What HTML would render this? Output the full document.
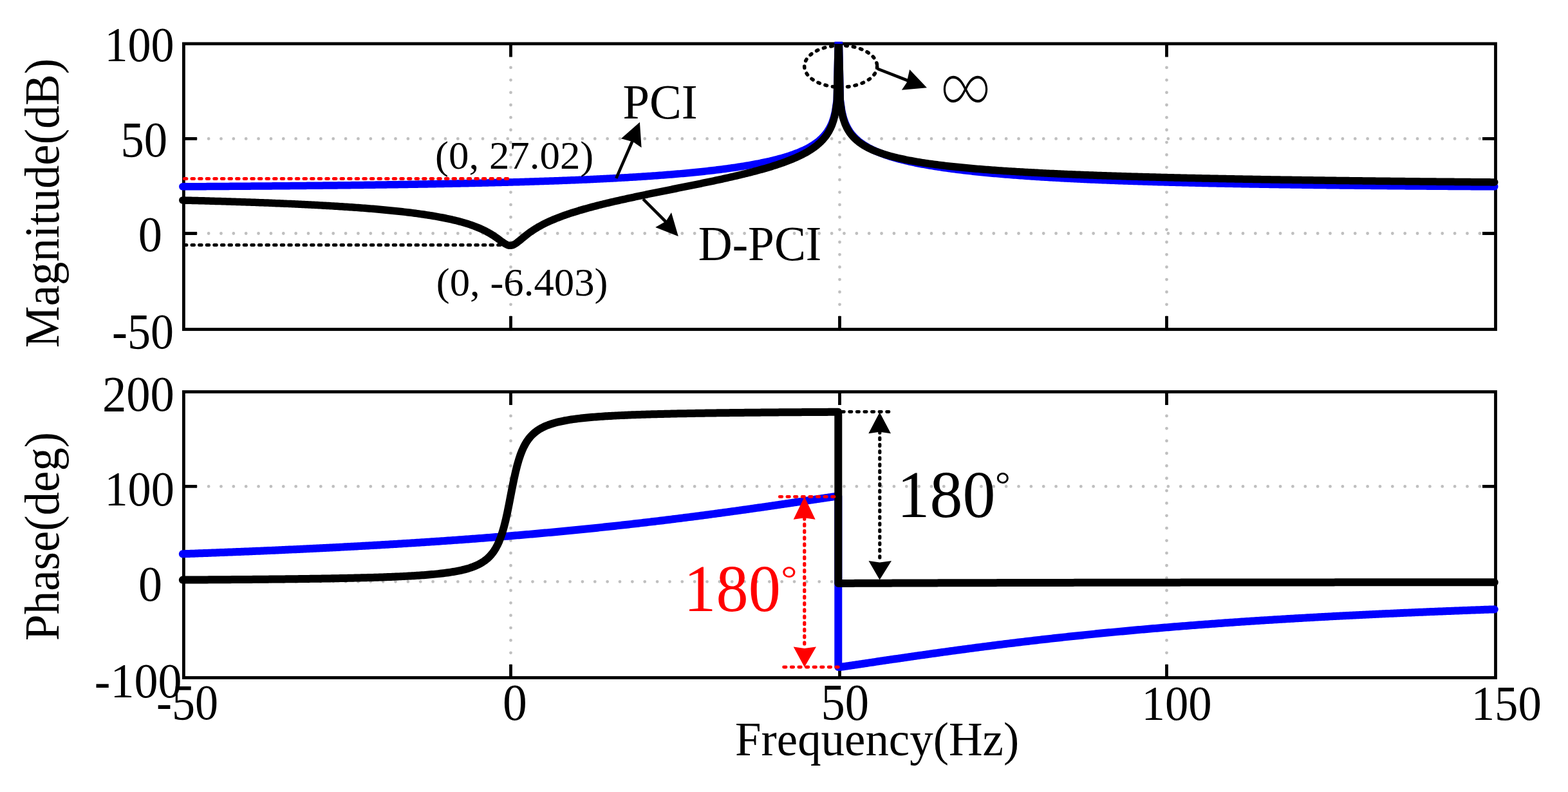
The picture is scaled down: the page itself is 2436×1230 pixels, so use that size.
<!DOCTYPE html>
<html><head><meta charset="utf-8"><title>Bode</title><style>html,body{margin:0;padding:0;background:#fff;overflow:hidden}svg{display:block}text{font-family:"Liberation Serif","Times New Roman",serif}</style></head><body>
<svg width="2436" height="1230" viewBox="0 0 2436 1230" font-family="'Liberation Serif', 'Times New Roman', serif">
<rect width="2436" height="1230" fill="#fff"/>
<defs><clipPath id="ct"><rect x="270" y="64.8" width="2070" height="454.7"/></clipPath><clipPath id="ct2"><rect x="270" y="68" width="2070" height="451.5"/></clipPath><clipPath id="cb"><rect x="270" y="606.5" width="2070" height="454.0"/></clipPath></defs>
<line x1="285.4" y1="215.4" x2="2323.5" y2="215.4" stroke="#bfbfbf" stroke-width="4.8" stroke-dasharray="0 19.36" stroke-linecap="round"/>
<line x1="285.4" y1="362.5" x2="2323.5" y2="362.5" stroke="#bfbfbf" stroke-width="4.8" stroke-dasharray="0 19.36" stroke-linecap="round"/>
<line x1="793.5" y1="511.5" x2="793.5" y2="67.9" stroke="#bfbfbf" stroke-width="4.8" stroke-dasharray="0 19.36" stroke-linecap="round"/>
<line x1="1304.5" y1="511.5" x2="1304.5" y2="67.9" stroke="#bfbfbf" stroke-width="4.8" stroke-dasharray="0 19.36" stroke-linecap="round"/>
<line x1="1812.5" y1="511.5" x2="1812.5" y2="67.9" stroke="#bfbfbf" stroke-width="4.8" stroke-dasharray="0 19.36" stroke-linecap="round"/>
<line x1="285.4" y1="755.4" x2="2323.5" y2="755.4" stroke="#bfbfbf" stroke-width="4.8" stroke-dasharray="0 19.36" stroke-linecap="round"/>
<line x1="285.4" y1="903.3" x2="2323.5" y2="903.3" stroke="#bfbfbf" stroke-width="4.8" stroke-dasharray="0 19.36" stroke-linecap="round"/>
<line x1="793.5" y1="1052.5" x2="793.5" y2="608.5" stroke="#bfbfbf" stroke-width="4.8" stroke-dasharray="0 19.36" stroke-linecap="round"/>
<line x1="1304.5" y1="1052.5" x2="1304.5" y2="608.5" stroke="#bfbfbf" stroke-width="4.8" stroke-dasharray="0 19.36" stroke-linecap="round"/>
<line x1="1812.5" y1="1052.5" x2="1812.5" y2="608.5" stroke="#bfbfbf" stroke-width="4.8" stroke-dasharray="0 19.36" stroke-linecap="round"/>
<path d="M285.4,215.4h20.5M2323.5,215.4h-20.5M285.4,362.5h20.5M2323.5,362.5h-20.5M793.5,511.5v-20.5M793.5,67.9v20.5M1304.5,511.5v-20.5M1304.5,67.9v20.5M1812.5,511.5v-20.5M1812.5,67.9v20.5" stroke="#000" stroke-width="4.8" fill="none"/>
<rect x="285.4" y="67.9" width="2038.1" height="443.6" fill="none" stroke="#000" stroke-width="4.8"/>
<path d="M285.4,755.4h20.5M2323.5,755.4h-20.5M285.4,903.3h20.5M2323.5,903.3h-20.5M793.5,1052.5v-20.5M793.5,608.5v20.5M1304.5,1052.5v-20.5M1304.5,608.5v20.5M1812.5,1052.5v-20.5M1812.5,608.5v20.5" stroke="#000" stroke-width="4.8" fill="none"/>
<rect x="285.4" y="608.5" width="2038.1" height="444.0" fill="none" stroke="#000" stroke-width="4.8"/>
<g clip-path="url(#ct)">
<path d="M283.8,289.85 L286.35,289.84 L288.89,289.82 L291.44,289.81 L293.99,289.79 L296.54,289.78 L299.08,289.76 L301.63,289.75 L304.18,289.73 L306.73,289.71 L309.27,289.7 L311.82,289.68 L314.37,289.67 L316.92,289.65 L319.46,289.63 L322.01,289.62 L324.56,289.6 L327.11,289.58 L329.65,289.57 L332.2,289.55 L334.75,289.53 L337.3,289.51 L339.84,289.5 L342.39,289.48 L344.94,289.46 L347.49,289.44 L350.03,289.43 L352.58,289.41 L355.13,289.39 L357.68,289.37 L360.22,289.35 L362.77,289.34 L365.32,289.32 L367.87,289.3 L370.41,289.28 L372.96,289.26 L375.51,289.24 L378.06,289.22 L380.6,289.2 L383.15,289.18 L385.7,289.16 L388.25,289.14 L390.79,289.12 L393.34,289.11 L395.89,289.08 L398.44,289.06 L400.98,289.04 L403.53,289.02 L406.08,289 L408.63,288.98 L411.17,288.96 L413.72,288.94 L416.27,288.92 L418.82,288.9 L421.36,288.88 L423.91,288.85 L426.46,288.83 L429.01,288.81 L431.55,288.79 L434.1,288.77 L436.65,288.74 L439.2,288.72 L441.74,288.7 L444.29,288.68 L446.84,288.65 L449.39,288.63 L451.93,288.61 L454.48,288.58 L457.03,288.56 L459.58,288.53 L462.12,288.51 L464.67,288.49 L467.22,288.46 L469.77,288.44 L472.31,288.41 L474.86,288.39 L477.41,288.36 L479.96,288.34 L482.5,288.31 L485.05,288.29 L487.6,288.26 L490.15,288.23 L492.69,288.21 L495.24,288.18 L497.79,288.15 L500.34,288.13 L502.88,288.1 L505.43,288.07 L507.98,288.04 L510.53,288.02 L513.08,287.99 L515.62,287.96 L518.17,287.93 L520.72,287.9 L523.26,287.88 L525.81,287.85 L528.36,287.82 L530.91,287.79 L533.45,287.76 L536,287.73 L538.55,287.7 L541.1,287.67 L543.64,287.64 L546.19,287.61 L548.74,287.58 L551.29,287.54 L553.84,287.51 L556.38,287.48 L558.93,287.45 L561.48,287.42 L564.02,287.38 L566.57,287.35 L569.12,287.32 L571.67,287.28 L574.21,287.25 L576.76,287.22 L579.31,287.18 L581.86,287.15 L584.4,287.11 L586.95,287.08 L589.5,287.04 L592.05,287.01 L594.6,286.97 L597.14,286.94 L599.69,286.9 L602.24,286.86 L604.78,286.83 L607.33,286.79 L609.88,286.75 L612.43,286.71 L614.97,286.68 L617.52,286.64 L620.07,286.6 L622.62,286.56 L625.16,286.52 L627.71,286.48 L630.26,286.44 L632.81,286.4 L635.36,286.36 L637.9,286.32 L640.45,286.28 L643,286.24 L645.54,286.19 L648.09,286.15 L650.64,286.11 L653.19,286.07 L655.73,286.02 L658.28,285.98 L660.83,285.93 L663.38,285.89 L665.92,285.84 L668.47,285.8 L671.02,285.75 L673.57,285.71 L676.12,285.66 L678.66,285.61 L681.21,285.57 L683.76,285.52 L686.3,285.47 L688.85,285.42 L691.4,285.37 L693.95,285.32 L696.5,285.27 L699.04,285.22 L701.59,285.17 L704.14,285.12 L706.68,285.07 L709.23,285.02 L711.78,284.96 L714.33,284.91 L716.88,284.86 L719.42,284.8 L721.97,284.75 L724.52,284.69 L727.06,284.64 L729.61,284.58 L732.16,284.53 L734.71,284.47 L737.25,284.41 L739.8,284.35 L742.35,284.3 L744.9,284.24 L747.44,284.18 L749.99,284.12 L752.54,284.06 L755.09,284 L757.63,283.93 L760.18,283.87 L762.73,283.81 L765.28,283.75 L767.82,283.68 L770.37,283.62 L772.92,283.55 L775.47,283.49 L778.01,283.42 L780.56,283.35 L783.11,283.28 L785.66,283.22 L788.2,283.15 L790.75,283.08 L793.3,283.01 L795.85,282.94 L798.39,282.86 L800.94,282.79 L803.49,282.72 L806.04,282.64 L808.58,282.57 L811.13,282.5 L813.68,282.42 L816.23,282.34 L818.77,282.27 L821.32,282.19 L823.87,282.11 L826.42,282.03 L828.96,281.95 L831.51,281.87 L834.06,281.78 L836.61,281.7 L839.15,281.62 L841.7,281.53 L844.25,281.45 L846.8,281.36 L849.34,281.27 L851.89,281.19 L854.44,281.1 L856.99,281.01 L859.53,280.92 L862.08,280.83 L864.63,280.73 L867.18,280.64 L869.72,280.55 L872.27,280.45 L874.82,280.35 L877.37,280.26 L879.91,280.16 L882.46,280.06 L885.01,279.96 L887.56,279.86 L890.1,279.75 L892.65,279.65 L895.2,279.55 L897.75,279.44 L900.29,279.33 L902.84,279.22 L905.39,279.12 L907.94,279 L910.48,278.89 L913.03,278.78 L915.58,278.67 L918.13,278.55 L920.67,278.43 L923.22,278.32 L925.77,278.2 L928.32,278.08 L930.87,277.96 L933.41,277.83 L935.96,277.71 L938.51,277.58 L941.05,277.46 L943.6,277.33 L946.15,277.2 L948.7,277.07 L951.24,276.93 L953.79,276.8 L956.34,276.66 L958.89,276.52 L961.43,276.38 L963.98,276.24 L966.53,276.1 L969.08,275.96 L971.62,275.81 L974.17,275.66 L976.72,275.52 L979.27,275.36 L981.81,275.21 L984.36,275.06 L986.91,274.9 L989.46,274.74 L992,274.58 L994.55,274.42 L997.1,274.26 L999.65,274.09 L1002.19,273.92 L1004.74,273.75 L1007.29,273.58 L1009.84,273.41 L1012.38,273.23 L1014.93,273.05 L1017.48,272.87 L1020.03,272.69 L1022.57,272.5 L1025.12,272.31 L1027.67,272.12 L1030.22,271.93 L1032.76,271.74 L1035.31,271.54 L1037.86,271.34 L1040.41,271.13 L1042.95,270.93 L1045.5,270.72 L1048.05,270.51 L1050.6,270.3 L1053.14,270.08 L1055.69,269.86 L1058.24,269.64 L1060.79,269.41 L1063.34,269.18 L1065.88,268.95 L1068.43,268.71 L1070.98,268.47 L1073.52,268.23 L1076.07,267.99 L1078.62,267.74 L1081.17,267.48 L1083.71,267.23 L1086.26,266.97 L1088.81,266.7 L1091.36,266.43 L1093.9,266.16 L1096.45,265.88 L1099,265.6 L1101.55,265.32 L1104.09,265.03 L1106.64,264.74 L1109.19,264.44 L1111.74,264.13 L1114.28,263.82 L1116.83,263.51 L1119.38,263.19 L1121.93,262.87 L1124.47,262.54 L1127.02,262.2 L1129.57,261.86 L1132.12,261.52 L1134.66,261.16 L1137.21,260.81 L1139.76,260.44 L1142.31,260.07 L1144.86,259.69 L1147.4,259.3 L1149.95,258.91 L1152.5,258.51 L1155.05,258.1 L1157.59,257.68 L1160.14,257.26 L1162.69,256.82 L1165.23,256.38 L1167.78,255.93 L1170.33,255.47 L1172.88,255 L1175.42,254.52 L1177.97,254.03 L1180.52,253.52 L1183.07,253.01 L1185.62,252.48 L1188.16,251.94 L1190.71,251.39 L1193.26,250.82 L1195.8,250.24 L1198.35,249.65 L1200.9,249.04 L1203.45,248.41 L1205.99,247.77 L1208.54,247.1 L1211.09,246.42 L1213.64,245.72 L1216.18,245 L1218.73,244.25 L1221.28,243.48 L1223.83,242.69 L1226.38,241.86 L1228.92,241.01 L1231.47,240.13 L1234.02,239.21 L1236.57,238.26 L1239.11,237.27 L1241.66,236.24 L1244.21,235.17 L1246.75,234.04 L1249.3,232.87 L1251.85,231.63 L1254.4,230.33 L1256.94,228.96 L1259.49,227.5 L1262.04,225.96 L1264.59,224.32 L1267.13,222.57 L1269.68,220.68 L1272.23,218.64 L1274.78,216.42 L1277.32,213.99 L1279.87,211.31 L1282.42,208.3 L1284.97,204.89 L1287.51,200.96 L1290.06,196.3 L1292.61,190.6 L1295.16,183.25 L1297.7,172.89 L1300.25,155.18 L1302.8,40 L1305.35,155.18 L1307.89,172.89 L1310.44,183.25 L1312.99,190.6 L1315.54,196.3 L1318.09,200.96 L1320.63,204.89 L1323.18,208.3 L1325.73,211.31 L1328.28,213.99 L1330.82,216.42 L1333.37,218.64 L1335.92,220.68 L1338.46,222.57 L1341.01,224.32 L1343.56,225.96 L1346.11,227.5 L1348.65,228.96 L1351.2,230.33 L1353.75,231.63 L1356.3,232.87 L1358.84,234.04 L1361.39,235.17 L1363.94,236.24 L1366.49,237.27 L1369.03,238.26 L1371.58,239.21 L1374.13,240.13 L1376.68,241.01 L1379.22,241.86 L1381.77,242.69 L1384.32,243.48 L1386.87,244.25 L1389.41,245 L1391.96,245.72 L1394.51,246.42 L1397.06,247.1 L1399.61,247.77 L1402.15,248.41 L1404.7,249.04 L1407.25,249.65 L1409.8,250.24 L1412.34,250.82 L1414.89,251.39 L1417.44,251.94 L1419.98,252.48 L1422.53,253.01 L1425.08,253.52 L1427.63,254.03 L1430.17,254.52 L1432.72,255 L1435.27,255.47 L1437.82,255.93 L1440.36,256.38 L1442.91,256.82 L1445.46,257.26 L1448.01,257.68 L1450.55,258.1 L1453.1,258.51 L1455.65,258.91 L1458.2,259.3 L1460.74,259.69 L1463.29,260.07 L1465.84,260.44 L1468.39,260.81 L1470.93,261.16 L1473.48,261.52 L1476.03,261.86 L1478.58,262.2 L1481.12,262.54 L1483.67,262.87 L1486.22,263.19 L1488.77,263.51 L1491.32,263.82 L1493.86,264.13 L1496.41,264.44 L1498.96,264.74 L1501.5,265.03 L1504.05,265.32 L1506.6,265.6 L1509.15,265.88 L1511.69,266.16 L1514.24,266.43 L1516.79,266.7 L1519.34,266.97 L1521.88,267.23 L1524.43,267.48 L1526.98,267.74 L1529.53,267.99 L1532.07,268.23 L1534.62,268.47 L1537.17,268.71 L1539.72,268.95 L1542.26,269.18 L1544.81,269.41 L1547.36,269.64 L1549.91,269.86 L1552.45,270.08 L1555,270.3 L1557.55,270.51 L1560.1,270.72 L1562.64,270.93 L1565.19,271.13 L1567.74,271.34 L1570.29,271.54 L1572.84,271.74 L1575.38,271.93 L1577.93,272.12 L1580.48,272.31 L1583.02,272.5 L1585.57,272.69 L1588.12,272.87 L1590.67,273.05 L1593.21,273.23 L1595.76,273.41 L1598.31,273.58 L1600.86,273.75 L1603.4,273.92 L1605.95,274.09 L1608.5,274.26 L1611.05,274.42 L1613.59,274.58 L1616.14,274.74 L1618.69,274.9 L1621.24,275.06 L1623.78,275.21 L1626.33,275.36 L1628.88,275.52 L1631.43,275.66 L1633.97,275.81 L1636.52,275.96 L1639.07,276.1 L1641.62,276.24 L1644.16,276.38 L1646.71,276.52 L1649.26,276.66 L1651.81,276.8 L1654.36,276.93 L1656.9,277.07 L1659.45,277.2 L1662,277.33 L1664.55,277.46 L1667.09,277.58 L1669.64,277.71 L1672.19,277.83 L1674.73,277.96 L1677.28,278.08 L1679.83,278.2 L1682.38,278.32 L1684.92,278.43 L1687.47,278.55 L1690.02,278.67 L1692.57,278.78 L1695.11,278.89 L1697.66,279 L1700.21,279.12 L1702.76,279.22 L1705.3,279.33 L1707.85,279.44 L1710.4,279.55 L1712.95,279.65 L1715.49,279.75 L1718.04,279.86 L1720.59,279.96 L1723.14,280.06 L1725.68,280.16 L1728.23,280.26 L1730.78,280.35 L1733.33,280.45 L1735.88,280.55 L1738.42,280.64 L1740.97,280.73 L1743.52,280.83 L1746.07,280.92 L1748.61,281.01 L1751.16,281.1 L1753.71,281.19 L1756.25,281.27 L1758.8,281.36 L1761.35,281.45 L1763.9,281.53 L1766.44,281.62 L1768.99,281.7 L1771.54,281.78 L1774.09,281.87 L1776.63,281.95 L1779.18,282.03 L1781.73,282.11 L1784.28,282.19 L1786.82,282.27 L1789.37,282.34 L1791.92,282.42 L1794.47,282.5 L1797.01,282.57 L1799.56,282.64 L1802.11,282.72 L1804.66,282.79 L1807.2,282.86 L1809.75,282.94 L1812.3,283.01 L1814.85,283.08 L1817.39,283.15 L1819.94,283.22 L1822.49,283.28 L1825.04,283.35 L1827.58,283.42 L1830.13,283.49 L1832.68,283.55 L1835.23,283.62 L1837.77,283.68 L1840.32,283.75 L1842.87,283.81 L1845.42,283.87 L1847.96,283.93 L1850.51,284 L1853.06,284.06 L1855.61,284.12 L1858.15,284.18 L1860.7,284.24 L1863.25,284.3 L1865.8,284.35 L1868.34,284.41 L1870.89,284.47 L1873.44,284.53 L1875.99,284.58 L1878.53,284.64 L1881.08,284.69 L1883.63,284.75 L1886.18,284.8 L1888.72,284.86 L1891.27,284.91 L1893.82,284.96 L1896.37,285.02 L1898.91,285.07 L1901.46,285.12 L1904.01,285.17 L1906.56,285.22 L1909.1,285.27 L1911.65,285.32 L1914.2,285.37 L1916.75,285.42 L1919.29,285.47 L1921.84,285.52 L1924.39,285.57 L1926.94,285.61 L1929.48,285.66 L1932.03,285.71 L1934.58,285.75 L1937.13,285.8 L1939.67,285.84 L1942.22,285.89 L1944.77,285.93 L1947.32,285.98 L1949.87,286.02 L1952.41,286.07 L1954.96,286.11 L1957.51,286.15 L1960.05,286.19 L1962.6,286.24 L1965.15,286.28 L1967.7,286.32 L1970.24,286.36 L1972.79,286.4 L1975.34,286.44 L1977.89,286.48 L1980.43,286.52 L1982.98,286.56 L1985.53,286.6 L1988.08,286.64 L1990.62,286.68 L1993.17,286.71 L1995.72,286.75 L1998.27,286.79 L2000.81,286.83 L2003.36,286.86 L2005.91,286.9 L2008.46,286.94 L2011,286.97 L2013.55,287.01 L2016.1,287.04 L2018.65,287.08 L2021.19,287.11 L2023.74,287.15 L2026.29,287.18 L2028.84,287.22 L2031.38,287.25 L2033.93,287.28 L2036.48,287.32 L2039.03,287.35 L2041.57,287.38 L2044.12,287.42 L2046.67,287.45 L2049.22,287.48 L2051.76,287.51 L2054.31,287.54 L2056.86,287.58 L2059.41,287.61 L2061.95,287.64 L2064.5,287.67 L2067.05,287.7 L2069.6,287.73 L2072.14,287.76 L2074.69,287.79 L2077.24,287.82 L2079.79,287.85 L2082.34,287.88 L2084.88,287.9 L2087.43,287.93 L2089.98,287.96 L2092.52,287.99 L2095.07,288.02 L2097.62,288.04 L2100.17,288.07 L2102.72,288.1 L2105.26,288.13 L2107.81,288.15 L2110.36,288.18 L2112.9,288.21 L2115.45,288.23 L2118,288.26 L2120.55,288.29 L2123.09,288.31 L2125.64,288.34 L2128.19,288.36 L2130.74,288.39 L2133.28,288.41 L2135.83,288.44 L2138.38,288.46 L2140.93,288.49 L2143.47,288.51 L2146.02,288.53 L2148.57,288.56 L2151.12,288.58 L2153.66,288.61 L2156.21,288.63 L2158.76,288.65 L2161.31,288.68 L2163.85,288.7 L2166.4,288.72 L2168.95,288.74 L2171.5,288.77 L2174.05,288.79 L2176.59,288.81 L2179.14,288.83 L2181.69,288.85 L2184.23,288.88 L2186.78,288.9 L2189.33,288.92 L2191.88,288.94 L2194.43,288.96 L2196.97,288.98 L2199.52,289 L2202.07,289.02 L2204.61,289.04 L2207.16,289.06 L2209.71,289.08 L2212.26,289.11 L2214.8,289.12 L2217.35,289.14 L2219.9,289.16 L2222.45,289.18 L2224.99,289.2 L2227.54,289.22 L2230.09,289.24 L2232.64,289.26 L2235.18,289.28 L2237.73,289.3 L2240.28,289.32 L2242.83,289.34 L2245.38,289.35 L2247.92,289.37 L2250.47,289.39 L2253.02,289.41 L2255.56,289.43 L2258.11,289.44 L2260.66,289.46 L2263.21,289.48 L2265.76,289.5 L2268.3,289.51 L2270.85,289.53 L2273.4,289.55 L2275.94,289.57 L2278.49,289.58 L2281.04,289.6 L2283.59,289.62 L2286.14,289.63 L2288.68,289.65 L2291.23,289.67 L2293.78,289.68 L2296.32,289.7 L2298.87,289.71 L2301.42,289.73 L2303.97,289.75 L2306.51,289.76 L2309.06,289.78 L2311.61,289.79 L2314.16,289.81 L2316.7,289.82 L2319.25,289.84 L2321.8,289.85" fill="none" stroke="#0000ff" stroke-width="11.5" stroke-linejoin="round" stroke-linecap="round" />
</g>
<g clip-path="url(#ct2)">
<path d="M283.8,311 L286.35,311.06 L288.89,311.13 L291.44,311.19 L293.99,311.26 L296.54,311.32 L299.08,311.39 L301.63,311.46 L304.18,311.52 L306.73,311.59 L309.27,311.66 L311.82,311.73 L314.37,311.8 L316.92,311.87 L319.46,311.94 L322.01,312.01 L324.56,312.08 L327.11,312.16 L329.65,312.23 L332.2,312.3 L334.75,312.38 L337.3,312.45 L339.84,312.53 L342.39,312.6 L344.94,312.68 L347.49,312.76 L350.03,312.84 L352.58,312.91 L355.13,312.99 L357.68,313.07 L360.22,313.15 L362.77,313.24 L365.32,313.32 L367.87,313.4 L370.41,313.48 L372.96,313.57 L375.51,313.65 L378.06,313.74 L380.6,313.83 L383.15,313.91 L385.7,314 L388.25,314.09 L390.79,314.18 L393.34,314.27 L395.89,314.36 L398.44,314.45 L400.98,314.55 L403.53,314.64 L406.08,314.74 L408.63,314.83 L411.17,314.93 L413.72,315.02 L416.27,315.12 L418.82,315.22 L421.36,315.32 L423.91,315.42 L426.46,315.53 L429.01,315.63 L431.55,315.73 L434.1,315.84 L436.65,315.95 L439.2,316.05 L441.74,316.16 L444.29,316.27 L446.84,316.38 L449.39,316.5 L451.93,316.61 L454.48,316.72 L457.03,316.84 L459.58,316.95 L462.12,317.07 L464.67,317.19 L467.22,317.31 L469.77,317.43 L472.31,317.56 L474.86,317.68 L477.41,317.81 L479.96,317.94 L482.5,318.06 L485.05,318.19 L487.6,318.33 L490.15,318.46 L492.69,318.59 L495.24,318.73 L497.79,318.87 L500.34,319.01 L502.88,319.15 L505.43,319.29 L507.98,319.44 L510.53,319.58 L513.08,319.73 L515.62,319.88 L518.17,320.03 L520.72,320.19 L523.26,320.34 L525.81,320.5 L528.36,320.66 L530.91,320.82 L533.45,320.99 L536,321.15 L538.55,321.32 L541.1,321.49 L543.64,321.66 L546.19,321.84 L548.74,322.02 L551.29,322.2 L553.84,322.38 L556.38,322.56 L558.93,322.75 L561.48,322.94 L564.02,323.13 L566.57,323.33 L569.12,323.53 L571.67,323.73 L574.21,323.94 L576.76,324.14 L579.31,324.35 L581.86,324.57 L584.4,324.79 L586.95,325.01 L589.5,325.23 L592.05,325.46 L594.6,325.69 L597.14,325.93 L599.69,326.17 L602.24,326.41 L604.78,326.66 L607.33,326.91 L609.88,327.16 L612.43,327.42 L614.97,327.69 L617.52,327.96 L620.07,328.23 L622.62,328.51 L625.16,328.8 L627.71,329.09 L630.26,329.38 L632.81,329.69 L635.36,329.99 L637.9,330.31 L640.45,330.63 L643,330.95 L645.54,331.28 L648.09,331.62 L650.64,331.97 L653.19,332.33 L655.73,332.69 L658.28,333.06 L660.83,333.44 L663.38,333.82 L665.92,334.22 L668.47,334.63 L671.02,335.04 L673.57,335.47 L676.12,335.9 L678.66,336.35 L681.21,336.81 L683.76,337.28 L686.3,337.76 L688.85,338.25 L691.4,338.76 L693.95,339.29 L696.5,339.83 L699.04,340.38 L701.59,340.95 L704.14,341.54 L706.68,342.15 L709.23,342.78 L711.78,343.42 L714.33,344.09 L716.88,344.78 L719.42,345.5 L721.97,346.24 L724.52,347.01 L727.06,347.81 L729.61,348.64 L732.16,349.5 L734.71,350.4 L737.25,351.34 L739.8,352.32 L742.35,353.34 L744.9,354.4 L747.44,355.52 L749.99,356.69 L752.54,357.92 L755.09,359.21 L757.63,360.57 L760.18,362 L762.73,363.5 L765.28,365.08 L767.82,366.73 L770.37,368.47 L772.92,370.27 L775.47,372.12 L778.01,374 L780.56,375.85 L783.11,377.61 L785.66,379.16 L788.2,380.39 L790.75,381.15 L793.3,381.34 L795.85,380.9 L798.39,379.88 L800.94,378.4 L803.49,376.58 L806.04,374.57 L808.58,372.46 L811.13,370.33 L813.68,368.22 L816.23,366.17 L818.77,364.18 L821.32,362.27 L823.87,360.43 L826.42,358.67 L828.96,356.99 L831.51,355.37 L834.06,353.82 L836.61,352.34 L839.15,350.91 L841.7,349.53 L844.25,348.21 L846.8,346.93 L849.34,345.69 L851.89,344.5 L854.44,343.34 L856.99,342.22 L859.53,341.13 L862.08,340.07 L864.63,339.04 L867.18,338.04 L869.72,337.06 L872.27,336.11 L874.82,335.17 L877.37,334.27 L879.91,333.38 L882.46,332.5 L885.01,331.65 L887.56,330.82 L890.1,330 L892.65,329.19 L895.2,328.4 L897.75,327.63 L900.29,326.86 L902.84,326.11 L905.39,325.38 L907.94,324.65 L910.48,323.93 L913.03,323.23 L915.58,322.53 L918.13,321.84 L920.67,321.17 L923.22,320.5 L925.77,319.84 L928.32,319.18 L930.87,318.54 L933.41,317.9 L935.96,317.27 L938.51,316.64 L941.05,316.03 L943.6,315.41 L946.15,314.81 L948.7,314.21 L951.24,313.61 L953.79,313.02 L956.34,312.43 L958.89,311.85 L961.43,311.28 L963.98,310.7 L966.53,310.14 L969.08,309.57 L971.62,309.01 L974.17,308.46 L976.72,307.9 L979.27,307.35 L981.81,306.8 L984.36,306.26 L986.91,305.72 L989.46,305.18 L992,304.64 L994.55,304.11 L997.1,303.58 L999.65,303.05 L1002.19,302.52 L1004.74,302 L1007.29,301.47 L1009.84,300.95 L1012.38,300.43 L1014.93,299.91 L1017.48,299.39 L1020.03,298.88 L1022.57,298.36 L1025.12,297.85 L1027.67,297.33 L1030.22,296.82 L1032.76,296.31 L1035.31,295.8 L1037.86,295.29 L1040.41,294.78 L1042.95,294.27 L1045.5,293.76 L1048.05,293.25 L1050.6,292.74 L1053.14,292.23 L1055.69,291.72 L1058.24,291.21 L1060.79,290.69 L1063.34,290.18 L1065.88,289.67 L1068.43,289.16 L1070.98,288.64 L1073.52,288.13 L1076.07,287.61 L1078.62,287.09 L1081.17,286.58 L1083.71,286.06 L1086.26,285.54 L1088.81,285.01 L1091.36,284.49 L1093.9,283.96 L1096.45,283.43 L1099,282.9 L1101.55,282.37 L1104.09,281.83 L1106.64,281.3 L1109.19,280.76 L1111.74,280.21 L1114.28,279.67 L1116.83,279.12 L1119.38,278.56 L1121.93,278.01 L1124.47,277.45 L1127.02,276.89 L1129.57,276.32 L1132.12,275.75 L1134.66,275.17 L1137.21,274.59 L1139.76,274.01 L1142.31,273.42 L1144.86,272.83 L1147.4,272.23 L1149.95,271.62 L1152.5,271.01 L1155.05,270.39 L1157.59,269.77 L1160.14,269.14 L1162.69,268.5 L1165.23,267.86 L1167.78,267.21 L1170.33,266.55 L1172.88,265.88 L1175.42,265.2 L1177.97,264.52 L1180.52,263.82 L1183.07,263.12 L1185.62,262.4 L1188.16,261.67 L1190.71,260.93 L1193.26,260.18 L1195.8,259.42 L1198.35,258.64 L1200.9,257.85 L1203.45,257.05 L1205.99,256.23 L1208.54,255.39 L1211.09,254.53 L1213.64,253.66 L1216.18,252.76 L1218.73,251.84 L1221.28,250.91 L1223.83,249.94 L1226.38,248.96 L1228.92,247.94 L1231.47,246.89 L1234.02,245.82 L1236.57,244.7 L1239.11,243.56 L1241.66,242.37 L1244.21,241.14 L1246.75,239.86 L1249.3,238.52 L1251.85,237.14 L1254.4,235.68 L1256.94,234.16 L1259.49,232.56 L1262.04,230.87 L1264.59,229.08 L1267.13,227.18 L1269.68,225.15 L1272.23,222.97 L1274.78,220.61 L1277.32,218.04 L1279.87,215.22 L1282.42,212.07 L1284.97,208.53 L1287.51,204.46 L1290.06,199.67 L1292.61,193.83 L1295.16,186.35 L1297.7,175.86 L1300.25,158.02 L1302.8,40 L1305.35,157.77 L1307.89,175.35 L1310.44,185.59 L1312.99,192.81 L1315.54,198.39 L1318.09,202.93 L1320.63,206.74 L1323.18,210.03 L1325.73,212.92 L1328.28,215.49 L1330.82,217.8 L1333.37,219.9 L1335.92,221.83 L1338.46,223.6 L1341.01,225.25 L1343.56,226.78 L1346.11,228.21 L1348.65,229.55 L1351.2,230.82 L1353.75,232.01 L1356.3,233.14 L1358.84,234.22 L1361.39,235.24 L1363.94,236.21 L1366.49,237.14 L1369.03,238.03 L1371.58,238.88 L1374.13,239.7 L1376.68,240.48 L1379.22,241.24 L1381.77,241.97 L1384.32,242.67 L1386.87,243.34 L1389.41,244 L1391.96,244.63 L1394.51,245.24 L1397.06,245.83 L1399.61,246.41 L1402.15,246.96 L1404.7,247.5 L1407.25,248.03 L1409.8,248.54 L1412.34,249.03 L1414.89,249.52 L1417.44,249.99 L1419.98,250.44 L1422.53,250.89 L1425.08,251.33 L1427.63,251.75 L1430.17,252.16 L1432.72,252.57 L1435.27,252.96 L1437.82,253.35 L1440.36,253.72 L1442.91,254.09 L1445.46,254.45 L1448.01,254.81 L1450.55,255.15 L1453.1,255.49 L1455.65,255.82 L1458.2,256.14 L1460.74,256.46 L1463.29,256.77 L1465.84,257.08 L1468.39,257.38 L1470.93,257.67 L1473.48,257.96 L1476.03,258.24 L1478.58,258.52 L1481.12,258.8 L1483.67,259.06 L1486.22,259.33 L1488.77,259.59 L1491.32,259.84 L1493.86,260.09 L1496.41,260.34 L1498.96,260.58 L1501.5,260.82 L1504.05,261.05 L1506.6,261.28 L1509.15,261.51 L1511.69,261.73 L1514.24,261.95 L1516.79,262.16 L1519.34,262.38 L1521.88,262.59 L1524.43,262.79 L1526.98,263 L1529.53,263.2 L1532.07,263.39 L1534.62,263.59 L1537.17,263.78 L1539.72,263.97 L1542.26,264.15 L1544.81,264.34 L1547.36,264.52 L1549.91,264.7 L1552.45,264.87 L1555,265.05 L1557.55,265.22 L1560.1,265.39 L1562.64,265.56 L1565.19,265.72 L1567.74,265.88 L1570.29,266.04 L1572.84,266.2 L1575.38,266.36 L1577.93,266.51 L1580.48,266.67 L1583.02,266.82 L1585.57,266.97 L1588.12,267.11 L1590.67,267.26 L1593.21,267.4 L1595.76,267.54 L1598.31,267.68 L1600.86,267.82 L1603.4,267.96 L1605.95,268.1 L1608.5,268.23 L1611.05,268.36 L1613.59,268.49 L1616.14,268.62 L1618.69,268.75 L1621.24,268.88 L1623.78,269 L1626.33,269.13 L1628.88,269.25 L1631.43,269.37 L1633.97,269.49 L1636.52,269.61 L1639.07,269.72 L1641.62,269.84 L1644.16,269.96 L1646.71,270.07 L1649.26,270.18 L1651.81,270.29 L1654.36,270.4 L1656.9,270.51 L1659.45,270.62 L1662,270.73 L1664.55,270.83 L1667.09,270.94 L1669.64,271.04 L1672.19,271.14 L1674.73,271.25 L1677.28,271.35 L1679.83,271.45 L1682.38,271.54 L1684.92,271.64 L1687.47,271.74 L1690.02,271.84 L1692.57,271.93 L1695.11,272.03 L1697.66,272.12 L1700.21,272.21 L1702.76,272.3 L1705.3,272.39 L1707.85,272.48 L1710.4,272.57 L1712.95,272.66 L1715.49,272.75 L1718.04,272.84 L1720.59,272.92 L1723.14,273.01 L1725.68,273.09 L1728.23,273.17 L1730.78,273.26 L1733.33,273.34 L1735.88,273.42 L1738.42,273.5 L1740.97,273.58 L1743.52,273.66 L1746.07,273.74 L1748.61,273.82 L1751.16,273.9 L1753.71,273.97 L1756.25,274.05 L1758.8,274.13 L1761.35,274.2 L1763.9,274.28 L1766.44,274.35 L1768.99,274.42 L1771.54,274.5 L1774.09,274.57 L1776.63,274.64 L1779.18,274.71 L1781.73,274.78 L1784.28,274.85 L1786.82,274.92 L1789.37,274.99 L1791.92,275.06 L1794.47,275.12 L1797.01,275.19 L1799.56,275.26 L1802.11,275.32 L1804.66,275.39 L1807.2,275.45 L1809.75,275.52 L1812.3,275.58 L1814.85,275.65 L1817.39,275.71 L1819.94,275.77 L1822.49,275.83 L1825.04,275.9 L1827.58,275.96 L1830.13,276.02 L1832.68,276.08 L1835.23,276.14 L1837.77,276.2 L1840.32,276.26 L1842.87,276.32 L1845.42,276.38 L1847.96,276.43 L1850.51,276.49 L1853.06,276.55 L1855.61,276.6 L1858.15,276.66 L1860.7,276.72 L1863.25,276.77 L1865.8,276.83 L1868.34,276.88 L1870.89,276.94 L1873.44,276.99 L1875.99,277.04 L1878.53,277.1 L1881.08,277.15 L1883.63,277.2 L1886.18,277.25 L1888.72,277.31 L1891.27,277.36 L1893.82,277.41 L1896.37,277.46 L1898.91,277.51 L1901.46,277.56 L1904.01,277.61 L1906.56,277.66 L1909.1,277.71 L1911.65,277.76 L1914.2,277.81 L1916.75,277.86 L1919.29,277.9 L1921.84,277.95 L1924.39,278 L1926.94,278.05 L1929.48,278.09 L1932.03,278.14 L1934.58,278.18 L1937.13,278.23 L1939.67,278.28 L1942.22,278.32 L1944.77,278.37 L1947.32,278.41 L1949.87,278.46 L1952.41,278.5 L1954.96,278.54 L1957.51,278.59 L1960.05,278.63 L1962.6,278.67 L1965.15,278.72 L1967.7,278.76 L1970.24,278.8 L1972.79,278.84 L1975.34,278.89 L1977.89,278.93 L1980.43,278.97 L1982.98,279.01 L1985.53,279.05 L1988.08,279.09 L1990.62,279.13 L1993.17,279.17 L1995.72,279.21 L1998.27,279.25 L2000.81,279.29 L2003.36,279.33 L2005.91,279.37 L2008.46,279.41 L2011,279.45 L2013.55,279.48 L2016.1,279.52 L2018.65,279.56 L2021.19,279.6 L2023.74,279.64 L2026.29,279.67 L2028.84,279.71 L2031.38,279.75 L2033.93,279.78 L2036.48,279.82 L2039.03,279.86 L2041.57,279.89 L2044.12,279.93 L2046.67,279.96 L2049.22,280 L2051.76,280.04 L2054.31,280.07 L2056.86,280.11 L2059.41,280.14 L2061.95,280.17 L2064.5,280.21 L2067.05,280.24 L2069.6,280.28 L2072.14,280.31 L2074.69,280.34 L2077.24,280.38 L2079.79,280.41 L2082.34,280.44 L2084.88,280.48 L2087.43,280.51 L2089.98,280.54 L2092.52,280.58 L2095.07,280.61 L2097.62,280.64 L2100.17,280.67 L2102.72,280.7 L2105.26,280.73 L2107.81,280.77 L2110.36,280.8 L2112.9,280.83 L2115.45,280.86 L2118,280.89 L2120.55,280.92 L2123.09,280.95 L2125.64,280.98 L2128.19,281.01 L2130.74,281.04 L2133.28,281.07 L2135.83,281.1 L2138.38,281.13 L2140.93,281.16 L2143.47,281.19 L2146.02,281.22 L2148.57,281.25 L2151.12,281.28 L2153.66,281.31 L2156.21,281.33 L2158.76,281.36 L2161.31,281.39 L2163.85,281.42 L2166.4,281.45 L2168.95,281.48 L2171.5,281.5 L2174.05,281.53 L2176.59,281.56 L2179.14,281.59 L2181.69,281.61 L2184.23,281.64 L2186.78,281.67 L2189.33,281.69 L2191.88,281.72 L2194.43,281.75 L2196.97,281.77 L2199.52,281.8 L2202.07,281.83 L2204.61,281.85 L2207.16,281.88 L2209.71,281.9 L2212.26,281.93 L2214.8,281.96 L2217.35,281.98 L2219.9,282.01 L2222.45,282.03 L2224.99,282.06 L2227.54,282.08 L2230.09,282.11 L2232.64,282.13 L2235.18,282.16 L2237.73,282.18 L2240.28,282.21 L2242.83,282.23 L2245.38,282.25 L2247.92,282.28 L2250.47,282.3 L2253.02,282.33 L2255.56,282.35 L2258.11,282.37 L2260.66,282.4 L2263.21,282.42 L2265.76,282.45 L2268.3,282.47 L2270.85,282.49 L2273.4,282.51 L2275.94,282.54 L2278.49,282.56 L2281.04,282.58 L2283.59,282.61 L2286.14,282.63 L2288.68,282.65 L2291.23,282.67 L2293.78,282.7 L2296.32,282.72 L2298.87,282.74 L2301.42,282.76 L2303.97,282.78 L2306.51,282.81 L2309.06,282.83 L2311.61,282.85 L2314.16,282.87 L2316.7,282.89 L2319.25,282.91 L2321.8,282.94" fill="none" stroke="#000" stroke-width="11.5" stroke-linejoin="round" stroke-linecap="round" />
</g>
<line x1="286.4" y1="277.4" x2="796" y2="277.4" stroke="#f00" stroke-width="5" stroke-dasharray="3.5 8.1" stroke-linecap="round"/>
<line x1="286.4" y1="380.4" x2="778" y2="380.4" stroke="#000" stroke-width="5" stroke-dasharray="3.5 8.1" stroke-linecap="round"/>
<g clip-path="url(#cb)">
<path d="M283.8,860.28 L286.35,860.19 L288.89,860.1 L291.44,860.01 L293.99,859.92 L296.54,859.83 L299.08,859.73 L301.63,859.64 L304.18,859.55 L306.73,859.46 L309.27,859.36 L311.82,859.27 L314.37,859.17 L316.92,859.08 L319.46,858.99 L322.01,858.89 L324.56,858.79 L327.11,858.7 L329.65,858.6 L332.2,858.51 L334.75,858.41 L337.3,858.31 L339.84,858.21 L342.39,858.12 L344.94,858.02 L347.49,857.92 L350.03,857.82 L352.58,857.72 L355.13,857.62 L357.68,857.52 L360.22,857.42 L362.77,857.32 L365.32,857.21 L367.87,857.11 L370.41,857.01 L372.96,856.91 L375.51,856.8 L378.06,856.7 L380.6,856.59 L383.15,856.49 L385.7,856.39 L388.25,856.28 L390.79,856.17 L393.34,856.07 L395.89,855.96 L398.44,855.85 L400.98,855.75 L403.53,855.64 L406.08,855.53 L408.63,855.42 L411.17,855.31 L413.72,855.2 L416.27,855.09 L418.82,854.98 L421.36,854.87 L423.91,854.76 L426.46,854.64 L429.01,854.53 L431.55,854.42 L434.1,854.31 L436.65,854.19 L439.2,854.08 L441.74,853.96 L444.29,853.85 L446.84,853.73 L449.39,853.61 L451.93,853.5 L454.48,853.38 L457.03,853.26 L459.58,853.14 L462.12,853.03 L464.67,852.91 L467.22,852.79 L469.77,852.67 L472.31,852.55 L474.86,852.42 L477.41,852.3 L479.96,852.18 L482.5,852.06 L485.05,851.93 L487.6,851.81 L490.15,851.69 L492.69,851.56 L495.24,851.44 L497.79,851.31 L500.34,851.18 L502.88,851.06 L505.43,850.93 L507.98,850.8 L510.53,850.67 L513.08,850.54 L515.62,850.41 L518.17,850.28 L520.72,850.15 L523.26,850.02 L525.81,849.89 L528.36,849.76 L530.91,849.62 L533.45,849.49 L536,849.35 L538.55,849.22 L541.1,849.08 L543.64,848.95 L546.19,848.81 L548.74,848.67 L551.29,848.54 L553.84,848.4 L556.38,848.26 L558.93,848.12 L561.48,847.98 L564.02,847.84 L566.57,847.7 L569.12,847.55 L571.67,847.41 L574.21,847.27 L576.76,847.13 L579.31,846.98 L581.86,846.84 L584.4,846.69 L586.95,846.54 L589.5,846.4 L592.05,846.25 L594.6,846.1 L597.14,845.95 L599.69,845.8 L602.24,845.65 L604.78,845.5 L607.33,845.35 L609.88,845.2 L612.43,845.04 L614.97,844.89 L617.52,844.73 L620.07,844.58 L622.62,844.42 L625.16,844.27 L627.71,844.11 L630.26,843.95 L632.81,843.79 L635.36,843.63 L637.9,843.47 L640.45,843.31 L643,843.15 L645.54,842.99 L648.09,842.83 L650.64,842.66 L653.19,842.5 L655.73,842.34 L658.28,842.17 L660.83,842 L663.38,841.84 L665.92,841.67 L668.47,841.5 L671.02,841.33 L673.57,841.16 L676.12,840.99 L678.66,840.82 L681.21,840.64 L683.76,840.47 L686.3,840.3 L688.85,840.12 L691.4,839.95 L693.95,839.77 L696.5,839.59 L699.04,839.41 L701.59,839.24 L704.14,839.06 L706.68,838.88 L709.23,838.69 L711.78,838.51 L714.33,838.33 L716.88,838.15 L719.42,837.96 L721.97,837.78 L724.52,837.59 L727.06,837.4 L729.61,837.21 L732.16,837.03 L734.71,836.84 L737.25,836.65 L739.8,836.45 L742.35,836.26 L744.9,836.07 L747.44,835.88 L749.99,835.68 L752.54,835.49 L755.09,835.29 L757.63,835.09 L760.18,834.89 L762.73,834.69 L765.28,834.49 L767.82,834.29 L770.37,834.09 L772.92,833.89 L775.47,833.68 L778.01,833.48 L780.56,833.27 L783.11,833.07 L785.66,832.86 L788.2,832.65 L790.75,832.44 L793.3,832.23 L795.85,832.02 L798.39,831.81 L800.94,831.6 L803.49,831.38 L806.04,831.17 L808.58,830.95 L811.13,830.73 L813.68,830.52 L816.23,830.3 L818.77,830.08 L821.32,829.86 L823.87,829.64 L826.42,829.41 L828.96,829.19 L831.51,828.96 L834.06,828.74 L836.61,828.51 L839.15,828.28 L841.7,828.06 L844.25,827.83 L846.8,827.6 L849.34,827.36 L851.89,827.13 L854.44,826.9 L856.99,826.66 L859.53,826.43 L862.08,826.19 L864.63,825.95 L867.18,825.71 L869.72,825.47 L872.27,825.23 L874.82,824.99 L877.37,824.75 L879.91,824.5 L882.46,824.26 L885.01,824.01 L887.56,823.76 L890.1,823.52 L892.65,823.27 L895.2,823.02 L897.75,822.76 L900.29,822.51 L902.84,822.26 L905.39,822 L907.94,821.75 L910.48,821.49 L913.03,821.23 L915.58,820.97 L918.13,820.71 L920.67,820.45 L923.22,820.19 L925.77,819.93 L928.32,819.66 L930.87,819.4 L933.41,819.13 L935.96,818.86 L938.51,818.59 L941.05,818.32 L943.6,818.05 L946.15,817.78 L948.7,817.51 L951.24,817.23 L953.79,816.96 L956.34,816.68 L958.89,816.4 L961.43,816.12 L963.98,815.84 L966.53,815.56 L969.08,815.28 L971.62,815 L974.17,814.71 L976.72,814.43 L979.27,814.14 L981.81,813.85 L984.36,813.56 L986.91,813.27 L989.46,812.98 L992,812.69 L994.55,812.39 L997.1,812.1 L999.65,811.8 L1002.19,811.51 L1004.74,811.21 L1007.29,810.91 L1009.84,810.61 L1012.38,810.31 L1014.93,810.01 L1017.48,809.7 L1020.03,809.4 L1022.57,809.09 L1025.12,808.79 L1027.67,808.48 L1030.22,808.17 L1032.76,807.86 L1035.31,807.55 L1037.86,807.24 L1040.41,806.93 L1042.95,806.61 L1045.5,806.3 L1048.05,805.98 L1050.6,805.66 L1053.14,805.34 L1055.69,805.03 L1058.24,804.7 L1060.79,804.38 L1063.34,804.06 L1065.88,803.74 L1068.43,803.41 L1070.98,803.09 L1073.52,802.76 L1076.07,802.43 L1078.62,802.1 L1081.17,801.77 L1083.71,801.44 L1086.26,801.11 L1088.81,800.78 L1091.36,800.44 L1093.9,800.11 L1096.45,799.77 L1099,799.44 L1101.55,799.1 L1104.09,798.76 L1106.64,798.42 L1109.19,798.08 L1111.74,797.74 L1114.28,797.4 L1116.83,797.05 L1119.38,796.71 L1121.93,796.36 L1124.47,796.02 L1127.02,795.67 L1129.57,795.32 L1132.12,794.97 L1134.66,794.62 L1137.21,794.27 L1139.76,793.92 L1142.31,793.57 L1144.86,793.22 L1147.4,792.86 L1149.95,792.51 L1152.5,792.15 L1155.05,791.8 L1157.59,791.44 L1160.14,791.08 L1162.69,790.72 L1165.23,790.36 L1167.78,790 L1170.33,789.64 L1172.88,789.28 L1175.42,788.92 L1177.97,788.56 L1180.52,788.19 L1183.07,787.83 L1185.62,787.46 L1188.16,787.1 L1190.71,786.73 L1193.26,786.37 L1195.8,786 L1198.35,785.63 L1200.9,785.26 L1203.45,784.89 L1205.99,784.52 L1208.54,784.15 L1211.09,783.78 L1213.64,783.41 L1216.18,783.04 L1218.73,782.67 L1221.28,782.29 L1223.83,781.92 L1226.38,781.55 L1228.92,781.17 L1231.47,780.8 L1234.02,780.42 L1236.57,780.05 L1239.11,779.67 L1241.66,779.29 L1244.21,778.92 L1246.75,778.54 L1249.3,778.16 L1251.85,777.79 L1254.4,777.41 L1256.94,777.03 L1259.49,776.65 L1262.04,776.27 L1264.59,775.89 L1267.13,775.51 L1269.68,775.14 L1272.23,774.76 L1274.78,774.38 L1277.32,774 L1279.87,773.62 L1282.42,773.24 L1284.97,772.85 L1287.51,772.47 L1290.06,772.09 L1292.61,771.71 L1295.16,771.33 L1297.7,770.95 L1300.25,770.57 L1302.3,770.57 L1302.3,1036.03 L1305.35,1036.03 L1307.89,1035.65 L1310.44,1035.27 L1312.99,1034.89 L1315.54,1034.51 L1318.09,1034.13 L1320.63,1033.75 L1323.18,1033.36 L1325.73,1032.98 L1328.28,1032.6 L1330.82,1032.22 L1333.37,1031.84 L1335.92,1031.46 L1338.46,1031.09 L1341.01,1030.71 L1343.56,1030.33 L1346.11,1029.95 L1348.65,1029.57 L1351.2,1029.19 L1353.75,1028.81 L1356.3,1028.44 L1358.84,1028.06 L1361.39,1027.68 L1363.94,1027.31 L1366.49,1026.93 L1369.03,1026.55 L1371.58,1026.18 L1374.13,1025.8 L1376.68,1025.43 L1379.22,1025.05 L1381.77,1024.68 L1384.32,1024.31 L1386.87,1023.93 L1389.41,1023.56 L1391.96,1023.19 L1394.51,1022.82 L1397.06,1022.45 L1399.61,1022.08 L1402.15,1021.71 L1404.7,1021.34 L1407.25,1020.97 L1409.8,1020.6 L1412.34,1020.23 L1414.89,1019.87 L1417.44,1019.5 L1419.98,1019.14 L1422.53,1018.77 L1425.08,1018.41 L1427.63,1018.04 L1430.17,1017.68 L1432.72,1017.32 L1435.27,1016.96 L1437.82,1016.6 L1440.36,1016.24 L1442.91,1015.88 L1445.46,1015.52 L1448.01,1015.16 L1450.55,1014.8 L1453.1,1014.45 L1455.65,1014.09 L1458.2,1013.74 L1460.74,1013.38 L1463.29,1013.03 L1465.84,1012.68 L1468.39,1012.33 L1470.93,1011.98 L1473.48,1011.63 L1476.03,1011.28 L1478.58,1010.93 L1481.12,1010.58 L1483.67,1010.24 L1486.22,1009.89 L1488.77,1009.55 L1491.32,1009.2 L1493.86,1008.86 L1496.41,1008.52 L1498.96,1008.18 L1501.5,1007.84 L1504.05,1007.5 L1506.6,1007.16 L1509.15,1006.83 L1511.69,1006.49 L1514.24,1006.16 L1516.79,1005.82 L1519.34,1005.49 L1521.88,1005.16 L1524.43,1004.83 L1526.98,1004.5 L1529.53,1004.17 L1532.07,1003.84 L1534.62,1003.51 L1537.17,1003.19 L1539.72,1002.86 L1542.26,1002.54 L1544.81,1002.22 L1547.36,1001.9 L1549.91,1001.57 L1552.45,1001.26 L1555,1000.94 L1557.55,1000.62 L1560.1,1000.3 L1562.64,999.99 L1565.19,999.67 L1567.74,999.36 L1570.29,999.05 L1572.84,998.74 L1575.38,998.43 L1577.93,998.12 L1580.48,997.81 L1583.02,997.51 L1585.57,997.2 L1588.12,996.9 L1590.67,996.59 L1593.21,996.29 L1595.76,995.99 L1598.31,995.69 L1600.86,995.39 L1603.4,995.09 L1605.95,994.8 L1608.5,994.5 L1611.05,994.21 L1613.59,993.91 L1616.14,993.62 L1618.69,993.33 L1621.24,993.04 L1623.78,992.75 L1626.33,992.46 L1628.88,992.17 L1631.43,991.89 L1633.97,991.6 L1636.52,991.32 L1639.07,991.04 L1641.62,990.76 L1644.16,990.48 L1646.71,990.2 L1649.26,989.92 L1651.81,989.64 L1654.36,989.37 L1656.9,989.09 L1659.45,988.82 L1662,988.55 L1664.55,988.28 L1667.09,988.01 L1669.64,987.74 L1672.19,987.47 L1674.73,987.2 L1677.28,986.94 L1679.83,986.67 L1682.38,986.41 L1684.92,986.15 L1687.47,985.89 L1690.02,985.63 L1692.57,985.37 L1695.11,985.11 L1697.66,984.85 L1700.21,984.6 L1702.76,984.34 L1705.3,984.09 L1707.85,983.84 L1710.4,983.58 L1712.95,983.33 L1715.49,983.08 L1718.04,982.84 L1720.59,982.59 L1723.14,982.34 L1725.68,982.1 L1728.23,981.85 L1730.78,981.61 L1733.33,981.37 L1735.88,981.13 L1738.42,980.89 L1740.97,980.65 L1743.52,980.41 L1746.07,980.17 L1748.61,979.94 L1751.16,979.7 L1753.71,979.47 L1756.25,979.24 L1758.8,979 L1761.35,978.77 L1763.9,978.54 L1766.44,978.32 L1768.99,978.09 L1771.54,977.86 L1774.09,977.64 L1776.63,977.41 L1779.18,977.19 L1781.73,976.96 L1784.28,976.74 L1786.82,976.52 L1789.37,976.3 L1791.92,976.08 L1794.47,975.87 L1797.01,975.65 L1799.56,975.43 L1802.11,975.22 L1804.66,975 L1807.2,974.79 L1809.75,974.58 L1812.3,974.37 L1814.85,974.16 L1817.39,973.95 L1819.94,973.74 L1822.49,973.53 L1825.04,973.33 L1827.58,973.12 L1830.13,972.92 L1832.68,972.71 L1835.23,972.51 L1837.77,972.31 L1840.32,972.11 L1842.87,971.91 L1845.42,971.71 L1847.96,971.51 L1850.51,971.31 L1853.06,971.11 L1855.61,970.92 L1858.15,970.72 L1860.7,970.53 L1863.25,970.34 L1865.8,970.15 L1868.34,969.95 L1870.89,969.76 L1873.44,969.57 L1875.99,969.39 L1878.53,969.2 L1881.08,969.01 L1883.63,968.82 L1886.18,968.64 L1888.72,968.45 L1891.27,968.27 L1893.82,968.09 L1896.37,967.91 L1898.91,967.72 L1901.46,967.54 L1904.01,967.36 L1906.56,967.19 L1909.1,967.01 L1911.65,966.83 L1914.2,966.65 L1916.75,966.48 L1919.29,966.3 L1921.84,966.13 L1924.39,965.96 L1926.94,965.78 L1929.48,965.61 L1932.03,965.44 L1934.58,965.27 L1937.13,965.1 L1939.67,964.93 L1942.22,964.76 L1944.77,964.6 L1947.32,964.43 L1949.87,964.26 L1952.41,964.1 L1954.96,963.94 L1957.51,963.77 L1960.05,963.61 L1962.6,963.45 L1965.15,963.29 L1967.7,963.13 L1970.24,962.97 L1972.79,962.81 L1975.34,962.65 L1977.89,962.49 L1980.43,962.33 L1982.98,962.18 L1985.53,962.02 L1988.08,961.87 L1990.62,961.71 L1993.17,961.56 L1995.72,961.4 L1998.27,961.25 L2000.81,961.1 L2003.36,960.95 L2005.91,960.8 L2008.46,960.65 L2011,960.5 L2013.55,960.35 L2016.1,960.2 L2018.65,960.06 L2021.19,959.91 L2023.74,959.76 L2026.29,959.62 L2028.84,959.47 L2031.38,959.33 L2033.93,959.19 L2036.48,959.05 L2039.03,958.9 L2041.57,958.76 L2044.12,958.62 L2046.67,958.48 L2049.22,958.34 L2051.76,958.2 L2054.31,958.06 L2056.86,957.93 L2059.41,957.79 L2061.95,957.65 L2064.5,957.52 L2067.05,957.38 L2069.6,957.25 L2072.14,957.11 L2074.69,956.98 L2077.24,956.84 L2079.79,956.71 L2082.34,956.58 L2084.88,956.45 L2087.43,956.32 L2089.98,956.19 L2092.52,956.06 L2095.07,955.93 L2097.62,955.8 L2100.17,955.67 L2102.72,955.54 L2105.26,955.42 L2107.81,955.29 L2110.36,955.16 L2112.9,955.04 L2115.45,954.91 L2118,954.79 L2120.55,954.67 L2123.09,954.54 L2125.64,954.42 L2128.19,954.3 L2130.74,954.18 L2133.28,954.05 L2135.83,953.93 L2138.38,953.81 L2140.93,953.69 L2143.47,953.57 L2146.02,953.46 L2148.57,953.34 L2151.12,953.22 L2153.66,953.1 L2156.21,952.99 L2158.76,952.87 L2161.31,952.75 L2163.85,952.64 L2166.4,952.52 L2168.95,952.41 L2171.5,952.29 L2174.05,952.18 L2176.59,952.07 L2179.14,951.96 L2181.69,951.84 L2184.23,951.73 L2186.78,951.62 L2189.33,951.51 L2191.88,951.4 L2194.43,951.29 L2196.97,951.18 L2199.52,951.07 L2202.07,950.96 L2204.61,950.85 L2207.16,950.75 L2209.71,950.64 L2212.26,950.53 L2214.8,950.43 L2217.35,950.32 L2219.9,950.21 L2222.45,950.11 L2224.99,950.01 L2227.54,949.9 L2230.09,949.8 L2232.64,949.69 L2235.18,949.59 L2237.73,949.49 L2240.28,949.39 L2242.83,949.28 L2245.38,949.18 L2247.92,949.08 L2250.47,948.98 L2253.02,948.88 L2255.56,948.78 L2258.11,948.68 L2260.66,948.58 L2263.21,948.48 L2265.76,948.39 L2268.3,948.29 L2270.85,948.19 L2273.4,948.09 L2275.94,948 L2278.49,947.9 L2281.04,947.81 L2283.59,947.71 L2286.14,947.61 L2288.68,947.52 L2291.23,947.43 L2293.78,947.33 L2296.32,947.24 L2298.87,947.14 L2301.42,947.05 L2303.97,946.96 L2306.51,946.87 L2309.06,946.77 L2311.61,946.68 L2314.16,946.59 L2316.7,946.5 L2319.25,946.41 L2321.8,946.32" fill="none" stroke="#0000ff" stroke-width="12" stroke-linejoin="round" stroke-linecap="round" />
<path d="M283.8,900.6 L286.35,900.58 L288.89,900.57 L291.44,900.56 L293.99,900.54 L296.54,900.53 L299.08,900.51 L301.63,900.5 L304.18,900.49 L306.73,900.47 L309.27,900.46 L311.82,900.44 L314.37,900.43 L316.92,900.41 L319.46,900.39 L322.01,900.38 L324.56,900.36 L327.11,900.35 L329.65,900.33 L332.2,900.31 L334.75,900.3 L337.3,900.28 L339.84,900.26 L342.39,900.25 L344.94,900.23 L347.49,900.21 L350.03,900.19 L352.58,900.18 L355.13,900.16 L357.68,900.14 L360.22,900.12 L362.77,900.1 L365.32,900.08 L367.87,900.06 L370.41,900.04 L372.96,900.03 L375.51,900.01 L378.06,899.98 L380.6,899.96 L383.15,899.94 L385.7,899.92 L388.25,899.9 L390.79,899.88 L393.34,899.86 L395.89,899.84 L398.44,899.81 L400.98,899.79 L403.53,899.77 L406.08,899.75 L408.63,899.72 L411.17,899.7 L413.72,899.67 L416.27,899.65 L418.82,899.62 L421.36,899.6 L423.91,899.57 L426.46,899.55 L429.01,899.52 L431.55,899.5 L434.1,899.47 L436.65,899.44 L439.2,899.41 L441.74,899.39 L444.29,899.36 L446.84,899.33 L449.39,899.3 L451.93,899.27 L454.48,899.24 L457.03,899.21 L459.58,899.18 L462.12,899.14 L464.67,899.11 L467.22,899.08 L469.77,899.05 L472.31,899.01 L474.86,898.98 L477.41,898.94 L479.96,898.91 L482.5,898.87 L485.05,898.84 L487.6,898.8 L490.15,898.76 L492.69,898.72 L495.24,898.68 L497.79,898.64 L500.34,898.6 L502.88,898.56 L505.43,898.52 L507.98,898.48 L510.53,898.43 L513.08,898.39 L515.62,898.35 L518.17,898.3 L520.72,898.25 L523.26,898.21 L525.81,898.16 L528.36,898.11 L530.91,898.06 L533.45,898.01 L536,897.95 L538.55,897.9 L541.1,897.85 L543.64,897.79 L546.19,897.73 L548.74,897.68 L551.29,897.62 L553.84,897.56 L556.38,897.5 L558.93,897.43 L561.48,897.37 L564.02,897.3 L566.57,897.24 L569.12,897.17 L571.67,897.1 L574.21,897.02 L576.76,896.95 L579.31,896.88 L581.86,896.8 L584.4,896.72 L586.95,896.64 L589.5,896.56 L592.05,896.47 L594.6,896.38 L597.14,896.29 L599.69,896.2 L602.24,896.11 L604.78,896.01 L607.33,895.91 L609.88,895.81 L612.43,895.71 L614.97,895.6 L617.52,895.49 L620.07,895.37 L622.62,895.25 L625.16,895.13 L627.71,895.01 L630.26,894.88 L632.81,894.75 L635.36,894.61 L637.9,894.47 L640.45,894.32 L643,894.17 L645.54,894.02 L648.09,893.85 L650.64,893.69 L653.19,893.51 L655.73,893.33 L658.28,893.15 L660.83,892.95 L663.38,892.75 L665.92,892.55 L668.47,892.33 L671.02,892.1 L673.57,891.87 L676.12,891.62 L678.66,891.37 L681.21,891.1 L683.76,890.82 L686.3,890.53 L688.85,890.22 L691.4,889.9 L693.95,889.56 L696.5,889.2 L699.04,888.83 L701.59,888.44 L704.14,888.02 L706.68,887.58 L709.23,887.12 L711.78,886.62 L714.33,886.1 L716.88,885.54 L719.42,884.95 L721.97,884.32 L724.52,883.64 L727.06,882.91 L729.61,882.13 L732.16,881.28 L734.71,880.37 L737.25,879.38 L739.8,878.31 L742.35,877.13 L744.9,875.85 L747.44,874.43 L749.99,872.88 L752.54,871.15 L755.09,869.22 L757.63,867.07 L760.18,864.64 L762.73,861.89 L765.28,858.76 L767.82,855.18 L770.37,851.04 L772.92,846.25 L775.47,840.67 L778.01,834.14 L780.56,826.52 L783.11,817.65 L785.66,807.44 L788.2,795.93 L790.75,783.37 L793.3,770.19 L795.85,757.01 L798.39,744.45 L800.94,732.94 L803.49,722.73 L806.04,713.86 L808.58,706.24 L811.13,699.71 L813.68,694.13 L816.23,689.34 L818.77,685.2 L821.32,681.62 L823.87,678.49 L826.42,675.74 L828.96,673.31 L831.51,671.16 L834.06,669.23 L836.61,667.5 L839.15,665.95 L841.7,664.53 L844.25,663.25 L846.8,662.07 L849.34,661 L851.89,660.01 L854.44,659.1 L856.99,658.25 L859.53,657.47 L862.08,656.74 L864.63,656.06 L867.18,655.43 L869.72,654.84 L872.27,654.28 L874.82,653.76 L877.37,653.26 L879.91,652.8 L882.46,652.36 L885.01,651.94 L887.56,651.55 L890.1,651.18 L892.65,650.82 L895.2,650.48 L897.75,650.16 L900.29,649.85 L902.84,649.56 L905.39,649.28 L907.94,649.01 L910.48,648.76 L913.03,648.51 L915.58,648.28 L918.13,648.05 L920.67,647.83 L923.22,647.63 L925.77,647.43 L928.32,647.23 L930.87,647.05 L933.41,646.87 L935.96,646.69 L938.51,646.53 L941.05,646.36 L943.6,646.21 L946.15,646.06 L948.7,645.91 L951.24,645.77 L953.79,645.63 L956.34,645.5 L958.89,645.37 L961.43,645.25 L963.98,645.13 L966.53,645.01 L969.08,644.89 L971.62,644.78 L974.17,644.67 L976.72,644.57 L979.27,644.47 L981.81,644.37 L984.36,644.27 L986.91,644.18 L989.46,644.09 L992,644 L994.55,643.91 L997.1,643.82 L999.65,643.74 L1002.19,643.66 L1004.74,643.58 L1007.29,643.5 L1009.84,643.43 L1012.38,643.36 L1014.93,643.28 L1017.48,643.21 L1020.03,643.14 L1022.57,643.08 L1025.12,643.01 L1027.67,642.95 L1030.22,642.88 L1032.76,642.82 L1035.31,642.76 L1037.86,642.7 L1040.41,642.65 L1042.95,642.59 L1045.5,642.53 L1048.05,642.48 L1050.6,642.43 L1053.14,642.37 L1055.69,642.32 L1058.24,642.27 L1060.79,642.22 L1063.34,642.17 L1065.88,642.13 L1068.43,642.08 L1070.98,642.03 L1073.52,641.99 L1076.07,641.95 L1078.62,641.9 L1081.17,641.86 L1083.71,641.82 L1086.26,641.78 L1088.81,641.74 L1091.36,641.7 L1093.9,641.66 L1096.45,641.62 L1099,641.58 L1101.55,641.54 L1104.09,641.51 L1106.64,641.47 L1109.19,641.44 L1111.74,641.4 L1114.28,641.37 L1116.83,641.33 L1119.38,641.3 L1121.93,641.27 L1124.47,641.24 L1127.02,641.2 L1129.57,641.17 L1132.12,641.14 L1134.66,641.11 L1137.21,641.08 L1139.76,641.05 L1142.31,641.02 L1144.86,640.99 L1147.4,640.97 L1149.95,640.94 L1152.5,640.91 L1155.05,640.88 L1157.59,640.86 L1160.14,640.83 L1162.69,640.81 L1165.23,640.78 L1167.78,640.76 L1170.33,640.73 L1172.88,640.71 L1175.42,640.68 L1177.97,640.66 L1180.52,640.63 L1183.07,640.61 L1185.62,640.59 L1188.16,640.57 L1190.71,640.54 L1193.26,640.52 L1195.8,640.5 L1198.35,640.48 L1200.9,640.46 L1203.45,640.44 L1205.99,640.42 L1208.54,640.4 L1211.09,640.37 L1213.64,640.35 L1216.18,640.34 L1218.73,640.32 L1221.28,640.3 L1223.83,640.28 L1226.38,640.26 L1228.92,640.24 L1231.47,640.22 L1234.02,640.2 L1236.57,640.19 L1239.11,640.17 L1241.66,640.15 L1244.21,640.13 L1246.75,640.12 L1249.3,640.1 L1251.85,640.08 L1254.4,640.07 L1256.94,640.05 L1259.49,640.03 L1262.04,640.02 L1264.59,640 L1267.13,639.99 L1269.68,639.97 L1272.23,639.95 L1274.78,639.94 L1277.32,639.92 L1279.87,639.91 L1282.42,639.89 L1284.97,639.88 L1287.51,639.87 L1290.06,639.85 L1292.61,639.84 L1295.16,639.82 L1297.7,639.81 L1300.25,639.8 L1302.3,639.8 L1302.3,905.99 L1305.35,905.99 L1307.89,905.98 L1310.44,905.96 L1312.99,905.95 L1315.54,905.94 L1318.09,905.92 L1320.63,905.91 L1323.18,905.9 L1325.73,905.89 L1328.28,905.87 L1330.82,905.86 L1333.37,905.85 L1335.92,905.84 L1338.46,905.83 L1341.01,905.81 L1343.56,905.8 L1346.11,905.79 L1348.65,905.78 L1351.2,905.77 L1353.75,905.76 L1356.3,905.75 L1358.84,905.73 L1361.39,905.72 L1363.94,905.71 L1366.49,905.7 L1369.03,905.69 L1371.58,905.68 L1374.13,905.67 L1376.68,905.66 L1379.22,905.65 L1381.77,905.64 L1384.32,905.63 L1386.87,905.62 L1389.41,905.61 L1391.96,905.6 L1394.51,905.59 L1397.06,905.58 L1399.61,905.57 L1402.15,905.56 L1404.7,905.55 L1407.25,905.54 L1409.8,905.53 L1412.34,905.52 L1414.89,905.52 L1417.44,905.51 L1419.98,905.5 L1422.53,905.49 L1425.08,905.48 L1427.63,905.47 L1430.17,905.46 L1432.72,905.45 L1435.27,905.44 L1437.82,905.44 L1440.36,905.43 L1442.91,905.42 L1445.46,905.41 L1448.01,905.4 L1450.55,905.4 L1453.1,905.39 L1455.65,905.38 L1458.2,905.37 L1460.74,905.36 L1463.29,905.36 L1465.84,905.35 L1468.39,905.34 L1470.93,905.33 L1473.48,905.32 L1476.03,905.32 L1478.58,905.31 L1481.12,905.3 L1483.67,905.29 L1486.22,905.29 L1488.77,905.28 L1491.32,905.27 L1493.86,905.27 L1496.41,905.26 L1498.96,905.25 L1501.5,905.24 L1504.05,905.24 L1506.6,905.23 L1509.15,905.22 L1511.69,905.22 L1514.24,905.21 L1516.79,905.2 L1519.34,905.2 L1521.88,905.19 L1524.43,905.18 L1526.98,905.18 L1529.53,905.17 L1532.07,905.16 L1534.62,905.16 L1537.17,905.15 L1539.72,905.14 L1542.26,905.14 L1544.81,905.13 L1547.36,905.13 L1549.91,905.12 L1552.45,905.11 L1555,905.11 L1557.55,905.1 L1560.1,905.1 L1562.64,905.09 L1565.19,905.08 L1567.74,905.08 L1570.29,905.07 L1572.84,905.07 L1575.38,905.06 L1577.93,905.06 L1580.48,905.05 L1583.02,905.04 L1585.57,905.04 L1588.12,905.03 L1590.67,905.03 L1593.21,905.02 L1595.76,905.02 L1598.31,905.01 L1600.86,905.01 L1603.4,905 L1605.95,904.99 L1608.5,904.99 L1611.05,904.98 L1613.59,904.98 L1616.14,904.97 L1618.69,904.97 L1621.24,904.96 L1623.78,904.96 L1626.33,904.95 L1628.88,904.95 L1631.43,904.94 L1633.97,904.94 L1636.52,904.93 L1639.07,904.93 L1641.62,904.92 L1644.16,904.92 L1646.71,904.91 L1649.26,904.91 L1651.81,904.9 L1654.36,904.9 L1656.9,904.89 L1659.45,904.89 L1662,904.89 L1664.55,904.88 L1667.09,904.88 L1669.64,904.87 L1672.19,904.87 L1674.73,904.86 L1677.28,904.86 L1679.83,904.85 L1682.38,904.85 L1684.92,904.84 L1687.47,904.84 L1690.02,904.84 L1692.57,904.83 L1695.11,904.83 L1697.66,904.82 L1700.21,904.82 L1702.76,904.81 L1705.3,904.81 L1707.85,904.81 L1710.4,904.8 L1712.95,904.8 L1715.49,904.79 L1718.04,904.79 L1720.59,904.79 L1723.14,904.78 L1725.68,904.78 L1728.23,904.77 L1730.78,904.77 L1733.33,904.77 L1735.88,904.76 L1738.42,904.76 L1740.97,904.75 L1743.52,904.75 L1746.07,904.75 L1748.61,904.74 L1751.16,904.74 L1753.71,904.73 L1756.25,904.73 L1758.8,904.73 L1761.35,904.72 L1763.9,904.72 L1766.44,904.72 L1768.99,904.71 L1771.54,904.71 L1774.09,904.7 L1776.63,904.7 L1779.18,904.7 L1781.73,904.69 L1784.28,904.69 L1786.82,904.69 L1789.37,904.68 L1791.92,904.68 L1794.47,904.68 L1797.01,904.67 L1799.56,904.67 L1802.11,904.67 L1804.66,904.66 L1807.2,904.66 L1809.75,904.65 L1812.3,904.65 L1814.85,904.65 L1817.39,904.64 L1819.94,904.64 L1822.49,904.64 L1825.04,904.63 L1827.58,904.63 L1830.13,904.63 L1832.68,904.63 L1835.23,904.62 L1837.77,904.62 L1840.32,904.62 L1842.87,904.61 L1845.42,904.61 L1847.96,904.61 L1850.51,904.6 L1853.06,904.6 L1855.61,904.6 L1858.15,904.59 L1860.7,904.59 L1863.25,904.59 L1865.8,904.58 L1868.34,904.58 L1870.89,904.58 L1873.44,904.58 L1875.99,904.57 L1878.53,904.57 L1881.08,904.57 L1883.63,904.56 L1886.18,904.56 L1888.72,904.56 L1891.27,904.55 L1893.82,904.55 L1896.37,904.55 L1898.91,904.55 L1901.46,904.54 L1904.01,904.54 L1906.56,904.54 L1909.1,904.53 L1911.65,904.53 L1914.2,904.53 L1916.75,904.53 L1919.29,904.52 L1921.84,904.52 L1924.39,904.52 L1926.94,904.51 L1929.48,904.51 L1932.03,904.51 L1934.58,904.51 L1937.13,904.5 L1939.67,904.5 L1942.22,904.5 L1944.77,904.5 L1947.32,904.49 L1949.87,904.49 L1952.41,904.49 L1954.96,904.49 L1957.51,904.48 L1960.05,904.48 L1962.6,904.48 L1965.15,904.48 L1967.7,904.47 L1970.24,904.47 L1972.79,904.47 L1975.34,904.47 L1977.89,904.46 L1980.43,904.46 L1982.98,904.46 L1985.53,904.46 L1988.08,904.45 L1990.62,904.45 L1993.17,904.45 L1995.72,904.45 L1998.27,904.44 L2000.81,904.44 L2003.36,904.44 L2005.91,904.44 L2008.46,904.43 L2011,904.43 L2013.55,904.43 L2016.1,904.43 L2018.65,904.42 L2021.19,904.42 L2023.74,904.42 L2026.29,904.42 L2028.84,904.41 L2031.38,904.41 L2033.93,904.41 L2036.48,904.41 L2039.03,904.41 L2041.57,904.4 L2044.12,904.4 L2046.67,904.4 L2049.22,904.4 L2051.76,904.39 L2054.31,904.39 L2056.86,904.39 L2059.41,904.39 L2061.95,904.39 L2064.5,904.38 L2067.05,904.38 L2069.6,904.38 L2072.14,904.38 L2074.69,904.37 L2077.24,904.37 L2079.79,904.37 L2082.34,904.37 L2084.88,904.37 L2087.43,904.36 L2089.98,904.36 L2092.52,904.36 L2095.07,904.36 L2097.62,904.36 L2100.17,904.35 L2102.72,904.35 L2105.26,904.35 L2107.81,904.35 L2110.36,904.35 L2112.9,904.34 L2115.45,904.34 L2118,904.34 L2120.55,904.34 L2123.09,904.34 L2125.64,904.33 L2128.19,904.33 L2130.74,904.33 L2133.28,904.33 L2135.83,904.33 L2138.38,904.32 L2140.93,904.32 L2143.47,904.32 L2146.02,904.32 L2148.57,904.32 L2151.12,904.31 L2153.66,904.31 L2156.21,904.31 L2158.76,904.31 L2161.31,904.31 L2163.85,904.3 L2166.4,904.3 L2168.95,904.3 L2171.5,904.3 L2174.05,904.3 L2176.59,904.3 L2179.14,904.29 L2181.69,904.29 L2184.23,904.29 L2186.78,904.29 L2189.33,904.29 L2191.88,904.28 L2194.43,904.28 L2196.97,904.28 L2199.52,904.28 L2202.07,904.28 L2204.61,904.28 L2207.16,904.27 L2209.71,904.27 L2212.26,904.27 L2214.8,904.27 L2217.35,904.27 L2219.9,904.27 L2222.45,904.26 L2224.99,904.26 L2227.54,904.26 L2230.09,904.26 L2232.64,904.26 L2235.18,904.26 L2237.73,904.25 L2240.28,904.25 L2242.83,904.25 L2245.38,904.25 L2247.92,904.25 L2250.47,904.25 L2253.02,904.24 L2255.56,904.24 L2258.11,904.24 L2260.66,904.24 L2263.21,904.24 L2265.76,904.24 L2268.3,904.23 L2270.85,904.23 L2273.4,904.23 L2275.94,904.23 L2278.49,904.23 L2281.04,904.23 L2283.59,904.22 L2286.14,904.22 L2288.68,904.22 L2291.23,904.22 L2293.78,904.22 L2296.32,904.22 L2298.87,904.21 L2301.42,904.21 L2303.97,904.21 L2306.51,904.21 L2309.06,904.21 L2311.61,904.21 L2314.16,904.21 L2316.7,904.2 L2319.25,904.2 L2321.8,904.2" fill="none" stroke="#000" stroke-width="12" stroke-linejoin="round" stroke-linecap="round" />
</g>
<ellipse cx="1306.2" cy="103" rx="56.5" ry="32.3" fill="none" stroke="#000" stroke-width="5.5" stroke-dasharray="2.6 9" stroke-linecap="round"/>
<line x1="1363.5" y1="106.8" x2="1410" y2="125" stroke="#000" stroke-width="4.6"/>
<polygon points="1440,136.2 1413.2,107.9 1408.5,128.5 1400.9,139.8" fill="#000"/>
<line x1="957.3" y1="276.8" x2="983" y2="218" stroke="#000" stroke-width="4.6"/>
<polygon points="993.9,189.8 964.9,215.3 983.5,220.2 996.6,229.2" fill="#000"/>
<line x1="999.1" y1="309.1" x2="1036" y2="346" stroke="#000" stroke-width="4.6"/>
<polygon points="1053.8,367 1043,330.1 1034.7,343.4 1018.2,353" fill="#000"/>
<line x1="1308" y1="639.5" x2="1383" y2="639.5" stroke="#000" stroke-width="4.8" stroke-dasharray="3.4 8.2" stroke-linecap="round"/>
<line x1="1366.8" y1="670" x2="1366.8" y2="874" stroke="#000" stroke-width="5.2" stroke-dasharray="2.2 8" stroke-linecap="round"/>
<polygon points="1366.6,640.2 1349.3,673.3 1366.6,670.8 1384,673.3" fill="#000"/>
<polygon points="1366.6,900.5 1349.5,871 1366.6,873.6 1385,871" fill="#000"/>
<line x1="1211.3" y1="771.4" x2="1302" y2="771.4" stroke="#f00" stroke-width="4.8" stroke-dasharray="3.5 8.1" stroke-linecap="round"/>
<line x1="1217.6" y1="1036" x2="1305.8" y2="1036" stroke="#f00" stroke-width="4.8" stroke-dasharray="3.5 8.1" stroke-linecap="round"/>
<line x1="1249.8" y1="804" x2="1249.8" y2="1006" stroke="#f00" stroke-width="5.2" stroke-dasharray="2.2 8" stroke-linecap="round"/>
<polygon points="1249.8,771.4 1232.7,806.7 1249.8,804.2 1266.7,806.7" fill="#f00"/>
<polygon points="1249.8,1036 1232.7,1004.5 1249.8,1007 1268,1004.5" fill="#f00"/>
<text transform="matrix(0.7212 0 0 0.7647 162.51 95.37)" font-size="100" fill="#000" >100</text>
<text transform="matrix(0.7267 0 0 0.7776 187.44 243.34)" font-size="100" fill="#000" >50</text>
<text transform="matrix(0.7452 0 0 0.7776 214.82 390.44)" font-size="100" fill="#000" >0</text>
<text transform="matrix(0.7200 0 0 0.7791 174.12 541.44)" font-size="100" fill="#000" >-50</text>
<text transform="matrix(0.7472 0 0 0.7761 158.91 638.35)" font-size="100" fill="#000" >200</text>
<text transform="matrix(0.7234 0 0 0.7676 162.39 785.46)" font-size="100" fill="#000" >100</text>
<text transform="matrix(0.7405 0 0 0.7776 214.94 933.44)" font-size="100" fill="#000" >0</text>
<text transform="matrix(0.7411 0 0 0.7529 146.74 1082.69)" font-size="100" fill="#000" >-100</text>
<text transform="matrix(0.7216 0 0 0.7731 242.91 1117.15)" font-size="100" fill="#000" >-50</text>
<text transform="matrix(0.7571 0 0 0.8000 781.07 1117.90)" font-size="100" fill="#000" >0</text>
<text transform="matrix(0.7467 0 0 0.8000 1275.52 1117.90)" font-size="100" fill="#000" >50</text>
<text transform="matrix(0.7277 0 0 0.7647 1773.55 1117.67)" font-size="100" fill="#000" >100</text>
<text transform="matrix(0.7277 0 0 0.7647 2285.65 1117.67)" font-size="100" fill="#000" >150</text>
<text transform="matrix(0 -0.7286 0.7511 0 90.83 539.99)" font-size="100" fill="#000">Magnitude(dB)</text>
<text transform="matrix(0 -0.7295 0.7556 0 90.93 994.89)" font-size="100" fill="#000">Phase(deg)</text>
<text transform="matrix(0.7291 0 0 0.7400 1142.01 1173.46)" font-size="100" fill="#000" >Frequency(Hz)</text>
<text transform="matrix(0.7463 0 0 0.7687 967.46 184.16)" font-size="100" fill="#000" >PCI</text>
<text transform="matrix(0.7337 0 0 0.7627 1084.70 404.47)" font-size="100" fill="#000" >D-PCI</text>
<text transform="matrix(0.6287 0 0 0.6189 676.09 261.80)" font-size="100" fill="#000" >(0, 27.02)</text>
<text transform="matrix(0.6276 0 0 0.6222 677.79 458.93)" font-size="100" fill="#000" >(0, -6.403)</text>
<text transform="matrix(0.7359 0 0 0.9857 1463.26 174.57)" font-size="100" fill="#000"  style="font-family:&quot;Noto Serif CJK SC&quot;,serif">&#8734;</text>
<text transform="matrix(1.0197 0 0 1.0412 1393.52 803.32)" font-size="100" fill="#000" >180</text>
<text transform="matrix(0.5933 0 0 0.5700 1546.03 772.22)" font-size="100" fill="#000" >&#176;</text>
<text transform="matrix(1.0029 0 0 1.0309 1062.37 949.04)" font-size="100" fill="#f00" >180</text>
<text transform="matrix(0.6300 0 0 0.5467 1213.15 917.08)" font-size="100" fill="#f00" >&#176;</text>
</svg>
</body></html>
